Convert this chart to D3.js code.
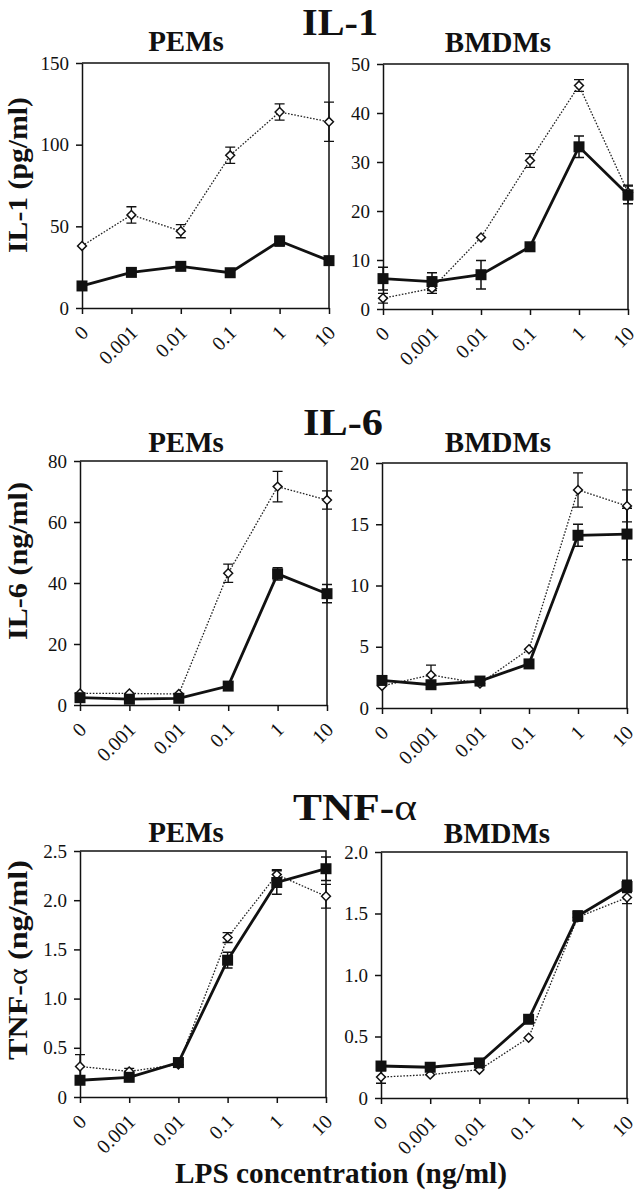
<!DOCTYPE html>
<html><head><meta charset="utf-8">
<script src="https://cdn.jsdelivr.net/npm/d3@7"></script>
<style>body{margin:0;background:#fff} svg{display:block}
svg text{font-family:'Liberation Serif','Times New Roman',Times,serif;}</style>
</head><body>
<svg id="c" width="640" height="1200"></svg>
<script>
// ---------- DATA ----------
const categories = ["0", "0.001", "0.01", "0.1", "1", "10"];

// IL-1 (pg/ml)
const il1PemOpen       = [38, 57, 47, 93.5, 120, 114];
const il1PemOpenErr    = [0, 5, 4, 5, 5, 12];
const il1PemFilled     = [13.5, 21.8, 25.5, 21.6, 41, 29];
const il1PemFilledErr  = [0, 0, 0, 0, 3, 2];
const il1BmdmOpen      = [2.2, 4.2, 14.6, 30.3, 45.6, 23.8];
const il1BmdmOpenErr   = [1, 1, 0, 1.4, 1.2, 1.5];
const il1BmdmFilled    = [6.2, 5.6, 7.0, 12.7, 33.1, 23.3];
const il1BmdmFilledErr = [2.3, 1.8, 2.9, 0, 2.2, 1.8];

// IL-6 (ng/ml)
const il6PemOpen       = [3.8, 3.8, 3.6, 43.2, 71.6, 67.2];
const il6PemOpenErr    = [0, 0, 0, 3, 5, 3];
const il6PemFilled     = [2.4, 1.9, 2.2, 6.2, 43, 36.5];
const il6PemFilledErr  = [0, 0, 0, 0, 2, 3];
const il6BmdmOpen      = [1.8, 2.7, 2.0, 4.8, 17.8, 16.5];
const il6BmdmOpenErr   = [0, 0.8, 0, 0, 1.4, 1.3];
const il6BmdmFilled    = [2.25, 1.9, 2.2, 3.6, 14.1, 14.2];
const il6BmdmFilledErr = [0, 0, 0, 0, 0.9, 2.1];

// TNF-alpha (ng/ml)
const tnfPemOpen       = [0.31, 0.26, 0.33, 1.62, 2.26, 2.04];
const tnfPemOpenErr    = [0.12, 0.03, 0, 0.05, 0.05, 0.12];
const tnfPemFilled     = [0.17, 0.2, 0.35, 1.39, 2.18, 2.32];
const tnfPemFilledErr  = [0, 0, 0.03, 0.08, 0.12, 0.12];
const tnfBmdmOpen      = [0.17, 0.19, 0.23, 0.49, 1.47, 1.63];
const tnfBmdmOpenErr   = [0.05, 0, 0, 0, 0.03, 0.05];
const tnfBmdmFilled    = [0.26, 0.25, 0.285, 0.64, 1.48, 1.72];
const tnfBmdmFilledErr = [0, 0, 0, 0, 0.04, 0.05];

// tick values
const il1PemTicks  = [0, 50, 100, 150];
const il1BmdmTicks = [0, 10, 20, 30, 40, 50];
const il6PemTicks  = [0, 20, 40, 60, 80];
const il6BmdmTicks = [0, 5, 10, 15, 20];
const tnfPemTicks  = [0, 0.5, 1.0, 1.5, 2.0, 2.5];
const tnfBmdmTicks = [0, 0.5, 1.0, 1.5, 2.0];

const rowTitles  = ["IL-1", "IL-6", "TNF-"];
const yLabels    = ["IL-1 (pg/ml)", "IL-6 (ng/ml)", "TNF-"];
const subTitles  = ["PEMs", "BMDMs"];
const xLabel     = "LPS concentration (ng/ml)";

// ---------- LAYOUT ----------
const SERIF = "'Liberation Serif','Times New Roman',Times,serif";
const svg = d3.select("#c");

const panels = [
  {o: il1PemOpen, oe: il1PemOpenErr, f: il1PemFilled, fe: il1PemFilledErr, ticks: il1PemTicks, dec: false,
   l: 82, r: 329, t: 63, b: 308, sub: 0, subX: 186, subY: 51},
  {o: il1BmdmOpen, oe: il1BmdmOpenErr, f: il1BmdmFilled, fe: il1BmdmFilledErr, ticks: il1BmdmTicks, dec: false,
   l: 383, r: 628, t: 64, b: 309, sub: 1, subX: 498, subY: 52},
  {o: il6PemOpen, oe: il6PemOpenErr, f: il6PemFilled, fe: il6PemFilledErr, ticks: il6PemTicks, dec: false,
   l: 80, r: 327, t: 461, b: 705, sub: 0, subX: 186, subY: 452},
  {o: il6BmdmOpen, oe: il6BmdmOpenErr, f: il6BmdmFilled, fe: il6BmdmFilledErr, ticks: il6BmdmTicks, dec: false,
   l: 382, r: 627, t: 463, b: 708, sub: 1, subX: 498, subY: 452},
  {o: tnfPemOpen, oe: tnfPemOpenErr, f: tnfPemFilled, fe: tnfPemFilledErr, ticks: tnfPemTicks, dec: true,
   l: 80, r: 326, t: 851, b: 1097, sub: 0, subX: 186, subY: 842},
  {o: tnfBmdmOpen, oe: tnfBmdmOpenErr, f: tnfBmdmFilled, fe: tnfBmdmFilledErr, ticks: tnfBmdmTicks, dec: true,
   l: 381, r: 627, t: 852, b: 1098, sub: 1, subX: 497, subY: 843}
];

panels.forEach(p => {
  const x = d3.scalePoint().domain(categories).range([p.l, p.r]).padding(0);
  const y = d3.scaleLinear().domain([0, p.ticks[p.ticks.length - 1]]).range([p.b, p.t]);
  const g = svg.append("g");

  // box (top & right)
  g.append("path")
    .attr("d", `M${p.l},${p.t}H${p.r}V${p.b}`)
    .attr("fill", "none").attr("stroke", "#111").attr("stroke-width", 1.5);

  // y axis
  const fmt = p.dec ? (d => d === 0 ? "0" : d3.format(".1f")(d)) : d3.format("d");
  const ya = g.append("g").attr("transform", `translate(${p.l},0)`)
    .call(d3.axisLeft(y).tickValues(p.ticks).tickFormat(fmt).tickSize(6).tickSizeOuter(0).tickPadding(7));
  ya.attr("font-family", SERIF).attr("font-size", 19);
  ya.select(".domain").attr("stroke", "#111").attr("stroke-width", 1.5);
  ya.selectAll(".tick line").attr("stroke", "#111").attr("stroke-width", 1.5);
  ya.selectAll(".tick text").attr("fill", "#111");

  // x axis
  const xa = g.append("g").attr("transform", `translate(0,${p.b})`)
    .call(d3.axisBottom(x).tickSize(6).tickSizeOuter(0));
  xa.attr("font-family", SERIF).attr("font-size", 20);
  xa.select(".domain").attr("stroke", "#111").attr("stroke-width", 1.5);
  xa.selectAll(".tick line").attr("stroke", "#111").attr("stroke-width", 1.5);
  xa.selectAll(".tick text")
    .attr("fill", "#111")
    .attr("text-anchor", "end").attr("dy", null).attr("y", null)
    .attr("dominant-baseline", "central")
    .attr("transform", "translate(2,21) rotate(-45)");

  const idx = d3.range(categories.length);

  // error bars
  const drawErr = (vals, errs, sw) => {
    idx.filter(i => errs[i] > 0).forEach(i => {
      const cx = x(categories[i]);
      const y1 = y(vals[i] + errs[i]), y2 = y(vals[i] - errs[i]);
      g.append("path")
        .attr("d", `M${cx},${y1}V${y2}M${cx - 5},${y1}H${cx + 5}M${cx - 5},${y2}H${cx + 5}`)
        .attr("fill", "none").attr("stroke", "#111").attr("stroke-width", sw);
    });
  };
  drawErr(p.o, p.oe, 1.3);
  drawErr(p.f, p.fe, 1.5);

  // lines
  const line = vals => d3.line().x(i => x(categories[i])).y(i => y(vals[i]))(idx);
  g.append("path").attr("d", line(p.o))
    .attr("fill", "none").attr("stroke", "#222").attr("stroke-width", 1.3)
    .attr("stroke-dasharray", "1.6,1.6");
  g.append("path").attr("d", line(p.f))
    .attr("fill", "none").attr("stroke", "#111").attr("stroke-width", 2.8);

  // open diamonds
  const dia = d3.symbol().type(d3.symbolDiamond2).size(50);
  g.selectAll(".dia").data(idx).join("path")
    .attr("transform", i => `translate(${x(categories[i])},${y(p.o[i])})`)
    .attr("d", dia)
    .attr("fill", "#fff").attr("stroke", "#111").attr("stroke-width", 1.5);

  // filled squares
  const sq = d3.symbol().type(d3.symbolSquare).size(121);
  g.selectAll(".sq").data(idx).join("path")
    .attr("transform", i => `translate(${x(categories[i])},${y(p.f[i])})`)
    .attr("d", sq).attr("fill", "#111");

  // subtitle
  svg.append("text").attr("x", p.subX).attr("y", p.subY)
    .attr("text-anchor", "middle").attr("font-family", SERIF)
    .attr("font-weight", "bold").attr("font-size", 29).attr("fill", "#111")
    .text(subTitles[p.sub]);
});

// row titles
const titlePos = [{x: 340, y: 35, len: 76}, {x: 343, y: 435, len: 80}, {x: 355, y: 820, len: 124}];
titlePos.forEach((tp, i) => {
  const t = svg.append("text").attr("x", tp.x).attr("y", tp.y)
    .attr("text-anchor", "middle").attr("font-family", SERIF)
    .attr("font-weight", "bold").attr("font-size", 38).attr("fill", "#111")
    .attr("textLength", tp.len).attr("lengthAdjust", "spacingAndGlyphs");
  t.append("tspan").text(rowTitles[i]);
  if (i === 2) t.append("tspan").attr("font-weight", "normal").text("α");
});

// y labels
const yLabPos = [{x: 27, y: 175, len: 156}, {x: 27, y: 561, len: 158}, {x: 27, y: 960, len: 200}];
yLabPos.forEach((lp, i) => {
  const t = svg.append("text")
    .attr("transform", `translate(${lp.x},${lp.y}) rotate(-90)`)
    .attr("text-anchor", "middle").attr("font-family", SERIF)
    .attr("font-weight", "bold").attr("font-size", 28).attr("fill", "#111")
    .attr("textLength", lp.len).attr("lengthAdjust", "spacingAndGlyphs");
  t.append("tspan").text(yLabels[i]);
  if (i === 2) {
    t.append("tspan").attr("font-weight", "normal").text("α");
    t.append("tspan").text(" (ng/ml)");
  }
});

// x label
svg.append("text").attr("x", 341).attr("y", 1183)
  .attr("text-anchor", "middle").attr("font-family", SERIF)
  .attr("font-weight", "bold").attr("font-size", 29).attr("fill", "#111")
  .attr("textLength", 332).attr("lengthAdjust", "spacingAndGlyphs")
  .text(xLabel);
</script>
</body></html>
